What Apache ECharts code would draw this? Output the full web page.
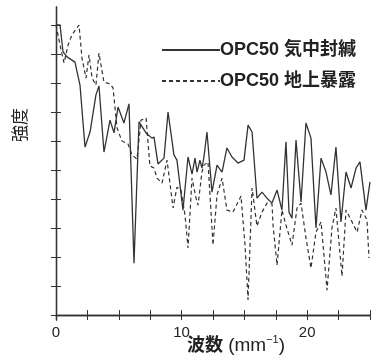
<!DOCTYPE html>
<html>
<head>
<meta charset="utf-8">
<script src="https://cdn.jsdelivr.net/npm/echarts@6/dist/echarts.min.js"></script>
<style>
  html, body { margin: 0; padding: 0; background: #fff; }
  #chart { width: 375px; height: 358px; }
</style>
</head>
<body>
<div id="chart"></div>
<script>
// wavenumber (mm^-1) / intensity pairs
const sealedX = [0, 0.32, 0.56, 0.88, 1.51, 1.91, 2.31, 2.71, 3.18, 3.42, 3.82, 4.30, 4.62, 4.94, 5.41, 5.81,
    6.21, 6.61, 7.17, 7.64, 7.80, 8.12, 8.60, 8.92, 9.39, 9.63, 10.11, 10.51, 10.83, 11.07, 11.23, 11.46,
    11.62, 11.78, 12.02, 12.42, 12.82, 13.22, 13.61, 14.01, 14.49, 14.97, 15.29, 15.61, 16.00, 16.40, 16.80,
    17.20, 17.60, 17.99, 18.31, 18.55, 18.79, 19.11, 19.51, 19.90, 20.30, 20.70, 21.10, 21.50, 21.89, 22.29,
    22.69, 23.09, 23.49, 23.89, 24.20, 24.68, 25.0];
const sealedY = [10.0, 10.0, 9.07, 8.90, 8.72, 7.93, 5.79, 6.31, 7.59, 7.90, 5.62, 6.72, 6.28, 7.17, 6.62, 7.28,
    1.79, 6.66, 6.28, 6.10, 6.14, 5.21, 5.41, 7.00, 5.52, 5.34, 3.62, 5.45, 4.86, 5.41, 4.93, 5.34,
    5.07, 5.45, 6.31, 4.24, 5.17, 4.93, 5.76, 5.45, 5.24, 5.34, 6.55, 6.31, 4.03, 4.24, 4.03,
    3.86, 4.31, 3.62, 5.97, 3.55, 3.34, 6.03, 3.90, 6.62, 6.10, 3.00, 5.41, 4.93, 4.14, 5.79,
    3.21, 4.93, 4.38, 5.07, 5.28, 3.62, 4.59];

const exposedX = [0, 0.40, 0.64, 0.96, 1.27, 1.83, 2.07, 2.39, 2.63, 2.87, 3.18, 3.42, 3.82, 4.30, 4.54, 4.86,
    5.25, 5.73, 6.05, 6.45, 6.77, 7.17, 7.48, 7.80, 8.04, 8.44, 8.84, 9.32, 9.63, 9.95, 10.27, 10.51,
    10.83, 11.15, 11.31, 11.62, 11.78, 12.10, 12.50, 12.82, 13.22, 13.61, 14.09, 14.73, 15.05, 15.29, 15.61,
    16.00, 16.40, 16.80, 17.20, 17.28, 17.60, 17.99, 18.31, 18.79, 19.19, 19.51, 19.90, 20.30, 20.70, 21.10,
    21.58, 21.97, 22.29, 22.77, 23.09, 23.49, 23.97, 24.36, 24.76, 24.92];
const exposedY = [10.0, 9.14, 8.69, 9.31, 9.66, 10.0, 8.86, 8.17, 8.97, 8.17, 7.93, 9.03, 8.03, 7.97, 7.83, 6.45,
    6.00, 5.90, 5.52, 5.38, 6.72, 6.79, 5.14, 5.07, 4.72, 4.55, 5.34, 3.69, 4.41, 4.31, 3.45, 2.31,
    4.72, 4.03, 3.79, 4.93, 5.17, 5.28, 2.41, 4.14, 4.72, 3.62, 3.55, 4.10, 2.41, 0.52, 4.38,
    3.07, 3.55, 3.86, 3.83, 3.10, 1.72, 3.62, 3.10, 2.41, 3.69, 3.86, 2.66, 1.62, 2.86, 3.21,
    0.86, 3.00, 3.69, 1.34, 3.62, 3.28, 2.86, 3.62, 3.28, 1.97];

const xTicks = [0, 10, 20];
const yTicks = [0, 1, 2, 3, 4, 5, 6, 7, 8, 9, 10];

const lineColor = '#333';
const textColor = '#222';
const fontFam = '"Liberation Sans", "Noto Sans CJK JP", sans-serif';

const pairs = (xs, ys) => xs.map((x, i) => [x, ys[i]]);

const chart = echarts.init(document.getElementById('chart'));

const xBase = {
    type: 'value', min: 0, max: 25, interval: 2.5,
    axisLine: { lineStyle: { color: lineColor, width: 1.3 } },
    axisTick: { inside: true, length: 5, lineStyle: { color: lineColor } },
    splitLine: { show: false }
};
const yBase = {
    type: 'value', min: -0.17, max: 10.62,
    axisLine: { show: true, lineStyle: { color: lineColor, width: 1.3 } },
    axisTick: { show: true, inside: true, length: 5, customValues: yTicks, lineStyle: { color: lineColor } },
    axisLabel: { show: false },
    splitLine: { show: false }
};

chart.setOption({
    backgroundColor: '#fff',
    animation: false,
    grid: { left: 56, right: 5, top: 7, bottom: 38 },
    xAxis: [
        Object.assign({}, xBase, {
            position: 'bottom',
            axisLabel: {
                customValues: xTicks, margin: 5,
                color: textColor, fontSize: 15, fontFamily: fontFam
            }
        }),
        Object.assign({}, xBase, { position: 'top', axisLabel: { show: false } })
    ],
    yAxis: [
        Object.assign({}, yBase, { position: 'left' }),
        Object.assign({}, yBase, { position: 'right' })
    ],
    legend: {
        orient: 'vertical',
        left: 161, top: 41, padding: 0,
        itemWidth: 58, itemHeight: 14, itemGap: 13,
        itemStyle: { opacity: 0 },
        textStyle: { color: textColor, fontSize: 18, fontWeight: 'bold', fontFamily: fontFam, padding: [0, 0, 0, -5] },
        data: ['OPC50 気中封緘', 'OPC50 地上暴露']
    },
    graphic: [
        {
            type: 'text', x: 21, y: 125, rotation: Math.PI / 2,
            style: {
                text: '強度', fill: textColor, fontSize: 17,
                fontFamily: fontFam, align: 'center', verticalAlign: 'middle'
            }
        },
        {
            type: 'text', x: 236, y: 346,
            style: {
                text: '{a|波数}{b| (mm}{s|−1}{b|)}', fill: textColor,
                align: 'center', verticalAlign: 'middle',
                rich: {
                    a: { fontSize: 18, fontWeight: 'bold', fontFamily: fontFam, fill: textColor },
                    b: { fontSize: 19, fontFamily: fontFam, fill: textColor },
                    s: { fontSize: 11, fontFamily: fontFam, fill: textColor, verticalAlign: 'top', padding: [0, 0, 12, 0] }
                }
            }
        }
    ],
    series: [
        {
            name: 'OPC50 気中封緘', type: 'line', symbol: 'none',
            data: pairs(sealedX, sealedY),
            lineStyle: { color: lineColor, width: 1.3 },
            itemStyle: { color: lineColor }
        },
        {
            name: 'OPC50 地上暴露', type: 'line', symbol: 'none',
            data: pairs(exposedX, exposedY),
            lineStyle: { color: lineColor, width: 1.2, type: [4, 3] },
            itemStyle: { color: lineColor }
        }
    ]
});
</script>
</body>
</html>
